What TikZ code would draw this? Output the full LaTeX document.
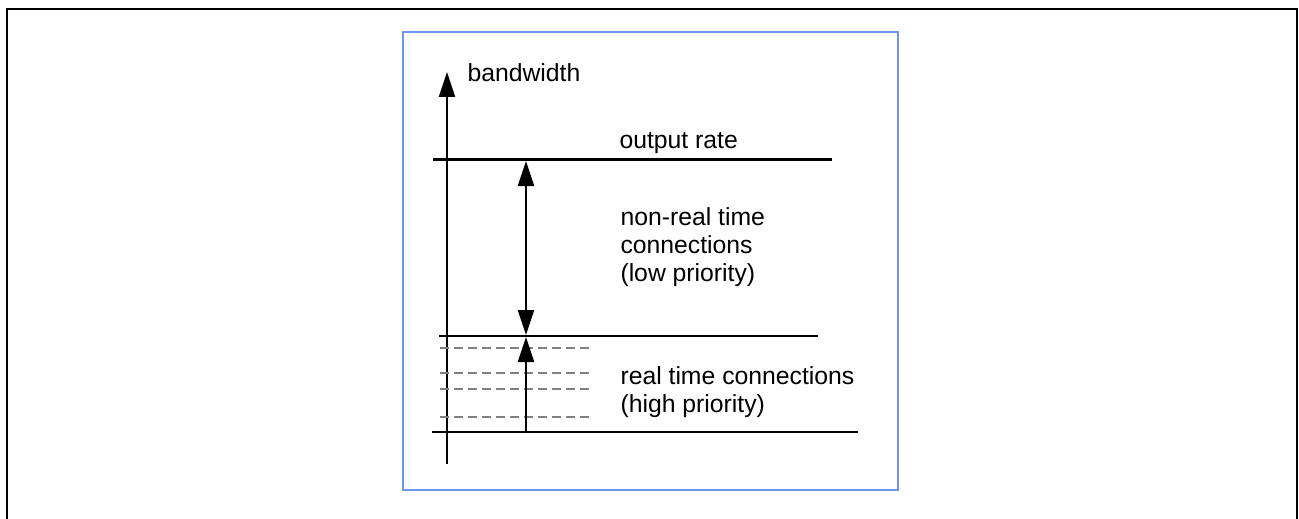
\documentclass[tikz,border=0pt]{standalone}
\usepackage{fontspec}
\setmainfont{Liberation Sans}
\usetikzlibrary{arrows.meta}
\definecolor{frameblue}{RGB}{110,150,240}
\begin{document}
\begin{tikzpicture}[x=0.4pt,y=-0.4pt,
    lbl/.style={anchor=base west,inner sep=0pt,align=left,font=\fontsize{9.9}{11.2}\selectfont},
    up/.style={-{Triangle[length=10pt,width=6.4pt]},line width=0.8pt},
    both/.style={{Triangle[length=10pt,width=6.4pt]}-{Triangle[length=10pt,width=6.4pt]},line width=0.8pt},
    level/.style={line width=0.8pt},
    sublevel/.style={black!50,dash pattern=on 3.6pt off 2pt,line width=0.6pt}]
  \useasboundingbox (0,0) rectangle (1299,519);
  \draw[line width=0.8pt] (7,519) -- (7,9) -- (1297,9) -- (1297,519);
  \draw[frameblue,line width=0.8pt] (403,32) rectangle (898,490);
  % bandwidth axis
  \coordinate (ybot) at (447,464);
  \coordinate (ytop) at (447,72);
  \draw[up] (ybot) -- (ytop);
  \node[lbl] (bwlbl) at (467,82) {bandwidth};
  % levels
  \coordinate (outL) at (433,160);
  \coordinate (outR) at (832,160);
  \draw[line width=1.2pt] (outL) -- (outR);
  \node[lbl] (outlbl) at (619,149) {output rate};
  \coordinate (rtL) at (439,336);
  \coordinate (rtR) at (818,336);
  \draw[level] (rtL) -- (rtR);
  \coordinate (baseL) at (432,432);
  \coordinate (baseR) at (858,432);
  \draw[level] (baseL) -- (baseR);
  \foreach \y in {348,373,389,417}
    \draw[sublevel] (440,\y) -- (591,\y);
  % shares
  \coordinate (nrtop) at (526,161);
  \coordinate (nrbot) at (526,335);
  \coordinate (rttop) at (526,337);
  \coordinate (rtbot) at (526,432);
  \draw[both] (nrbot) -- (nrtop);
  \draw[up] (rtbot) -- (rttop);
  \node[lbl] (nrlbl) at (620,281) {non-real time\\connections\\(low priority)};
  \node[lbl] (rtlbl) at (620,412) {real time connections\\(high priority)};
\end{tikzpicture}
\end{document}
